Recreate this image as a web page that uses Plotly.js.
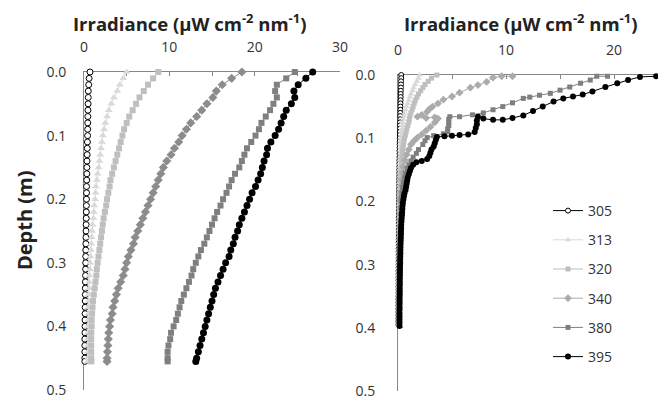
<!DOCTYPE html>
<html>
<head>
<meta charset="utf-8">
<script src="https://cdn.plot.ly/plotly-3.0.1.min.js"></script>
<style>html,body{margin:0;padding:0;background:#fff;}#chart{width:658px;height:399px;}</style>
</head>
<body>
<div id="chart"></div>
<script>
// ---------- data ----------
const wavelengths = ["305", "313", "320", "340", "380", "395"];
const depthTicks = [0, 0.1, 0.2, 0.3, 0.4, 0.5];
const depthTickText = ["0.0", "0.1", "0.2", "0.3", "0.4", "0.5"];

// Left panel: depth (m)
const depthL = [0,0.01,0.02,0.03,0.04,0.05,0.06,0.07,0.08,0.09,
  0.10,0.11,0.12,0.13,0.14,0.15,0.16,0.17,0.18,0.19,
  0.20,0.21,0.22,0.23,0.24,0.25,0.26,0.27,0.28,0.29,
  0.30,0.31,0.32,0.33,0.34,0.35,0.36,0.37,0.38,0.39,
  0.40,0.41,0.42,0.43,0.44,0.45,0.455];
const L305 = [0.7,0.6,0.55,0.5,0.5,0.48,0.46,0.45,0.44,0.43, 0.42,0.4,0.38,0.37,0.35,0.34,0.33,0.32,0.3,0.3,
  0.29,0.28,0.27,0.26,0.25,0.24,0.23,0.22,0.21,0.2, 0.2,0.19,0.18,0.17,0.16,0.15,0.15,0.14,0.13,0.12,
  0.12,0.11,0.1,0.1,0.1,0.1,0.1];
const L313 = [5.0,4.6,4.2,3.9,3.5,3.2,2.9,2.7,2.5,2.35, 2.2,2.1,2.0,1.9,1.8,1.7,1.6,1.5,1.4,1.35,
  1.3,1.2,1.15,1.1,1.0,0.95,0.9,0.85,0.8,0.75, 0.7,0.7,0.65,0.6,0.6,0.55,0.55,0.5,0.5,0.5,
  0.45,0.45,0.45,0.45,0.45,0.45,0.45];
const L320 = [8.7,8.1,7.5,7.0,6.5,6.1,5.7,5.3,5.0,4.7, 4.5,4.3,4.1,3.9,3.7,3.5,3.3,3.1,3.0,2.85,
  2.7,2.6,2.45,2.3,2.2,2.1,2.0,1.9,1.8,1.7, 1.6,1.5,1.45,1.35,1.25,1.15,1.05,1.0,0.95,0.9,
  0.9,0.85,0.85,0.85,0.85,0.85,0.85];
const L340 = [18.5,17.3,16.2,15.5,15.1,14.4,13.8,13.2,12.5,12.0, 11.5,11.1,10.6,10.2,9.7,9.3,9.0,8.7,8.4,8.1,
  7.8,7.5,7.2,6.9,6.6,6.3,6.0,5.8,5.5,5.2, 5.0,4.8,4.6,4.3,4.0,3.8,3.6,3.4,3.3,3.1,
  3.0,2.9,2.85,2.8,2.75,2.7,2.7];
const L380 = [24.7,23.7,22.6,22.4,22.6,22.2,21.8,21.3,20.8,20.5, 20.1,19.6,19.1,18.8,18.5,18.2,17.7,17.3,17.0,16.7,
  16.3,16.0,15.6,15.3,15.0,14.7,14.4,14.1,13.7,13.4, 13.1,12.8,12.6,12.3,12.0,11.7,11.4,11.2,11.0,10.8,
  10.5,10.2,10.1,9.9,9.8,9.8,9.8];
const L395 = [26.8,26.0,25.1,24.6,24.7,24.3,23.7,23.4,23.1,22.8, 22.4,21.9,21.5,21.4,21.1,20.9,20.7,20.4,20.1,19.7,
  19.4,19.1,18.8,18.5,18.2,18.0,17.7,17.5,17.2,17.0, 16.6,16.3,16.0,15.7,15.4,15.2,15.0,14.8,14.6,14.4,
  14.2,14.0,13.8,13.6,13.4,13.2,13.1];

// Right panel: depth (m) shared by 305/313/320
const depthR = [0,0.005,0.01,0.015,0.02,0.025,0.03,0.035,0.04,0.045,
  0.05,0.055,0.06,0.065,0.07,0.075,0.08,0.085,0.09,0.095,
  0.10,0.105,0.11,0.115,0.12,0.125,0.13,0.135,0.14,0.145,
  0.15,0.155,0.16,0.165,0.17,0.175,0.18,0.185,0.19,0.195,
  0.20,0.205,0.21,0.215,0.22,0.225,0.23,0.235,0.24,0.245,
  0.25,0.255,0.26,0.265,0.27,0.275,0.28,0.285,0.29,0.295,
  0.30,0.305,0.31,0.315,0.32,0.325,0.33,0.335,0.34,0.345,
  0.35,0.355,0.36,0.365,0.37,0.375,0.38,0.385,0.39,0.395];
const R305 = [0.3,0.3,0.28,0.28,0.27,0.26,0.25,0.25,0.24,0.23, 0.22,0.22,0.21,0.2,0.2,0.19,0.18,0.18,0.17,0.17,
  0.16,0.16,0.15,0.15,0.14,0.14,0.14,0.13,0.13,0.13, 0.12,0.12,0.12,0.11,0.11,0.11,0.1,0.1,0.1,0.1,
  0.09,0.09,0.09,0.09,0.08,0.08,0.08,0.08,0.08,0.07, 0.07,0.07,0.07,0.07,0.07,0.06,0.06,0.06,0.06,0.06,
  0.06,0.06,0.05,0.05,0.05,0.05,0.05,0.05,0.05,0.05, 0.05,0.04,0.04,0.04,0.04,0.04,0.04,0.04,0.04,0.04];
const R313 = [2.0,1.9,1.75,1.6,1.45,1.35,1.2,1.1,1.0,0.9, 0.8,0.7,0.62,0.55,0.5,0.45,0.42,0.38,0.35,0.33,
  0.3,0.28,0.26,0.25,0.24,0.23,0.22,0.21,0.2,0.19, 0.18,0.17,0.17,0.16,0.16,0.15,0.15,0.14,0.14,0.13,
  0.13,0.13,0.12,0.12,0.12,0.11,0.11,0.11,0.1,0.1, 0.1,0.1,0.09,0.09,0.09,0.09,0.08,0.08,0.08,0.08,
  0.08,0.07,0.07,0.07,0.07,0.07,0.07,0.06,0.06,0.06, 0.06,0.06,0.06,0.06,0.05,0.05,0.05,0.05,0.05,0.05];
const R320 = [3.6,3.1,2.8,2.5,2.3,2.1,1.9,1.75,1.6,1.5, 1.4,1.3,1.2,1.1,1.05,1.0,0.9,0.82,0.75,0.68,
  0.6,0.55,0.5,0.46,0.43,0.4,0.37,0.35,0.33,0.31, 0.3,0.28,0.27,0.26,0.25,0.24,0.23,0.22,0.21,0.2,
  0.2,0.19,0.19,0.18,0.18,0.17,0.17,0.16,0.16,0.16, 0.15,0.15,0.15,0.14,0.14,0.14,0.13,0.13,0.13,0.13,
  0.12,0.12,0.12,0.12,0.11,0.11,0.11,0.11,0.1,0.1, 0.1,0.1,0.1,0.09,0.09,0.09,0.09,0.09,0.08,0.08];

const dep340R = [0.002,0.002,0.004,0.011,0.016,0.020,0.028,0.034,0.039,0.045,
  0.050,0.054,0.058,0.063,0.066,0.068,0.067,0.069,0.075,0.082,
  0.088,0.094,0.099,0.104,0.110,0.118,0.126,0.135,0.145,0.155,
  0.165,0.175,0.185,0.195,0.20,0.21,0.22,0.23,0.24,0.25,
  0.26,0.27,0.28,0.29,0.30,0.31,0.32,0.33,0.34,0.35,
  0.36,0.37,0.38,0.39];
const R340 = [10.6,9.6,8.8,8.2,7.4,6.7,5.7,5.0,4.2,3.7,
  3.2,2.9,2.7,2.2,1.8,2.6,3.4,3.7,3.4,3.0,
  2.6,2.2,1.8,1.5,1.2,1.0,0.8,0.65,0.5,0.42,
  0.36,0.32,0.28,0.25,0.23,0.21,0.2,0.19,0.18,0.17,
  0.16,0.15,0.14,0.13,0.13,0.12,0.12,0.11,0.11,0.1,
  0.1,0.1,0.09,0.09];

const dep380R = [0.002,0.002,0.008,0.013,0.019,0.024,0.029,0.032,0.035,0.037,
  0.044,0.050,0.055,0.060,0.063,0.066,0.066,0.070,0.075,0.080,
  0.085,0.090,0.093,0.096,0.099,0.104,0.110,0.118,0.124,0.130,
  0.136,0.142,0.148,0.155,0.162,0.170,0.178,0.186,0.194,
  0.20,0.21,0.22,0.23,0.24,0.25,0.26,0.27,0.28,0.29,
  0.30,0.31,0.32,0.33,0.34,0.35,0.36,0.37,0.38,0.39];
const R380 = [19.4,18.4,17.8,16.9,15.9,15.0,14.1,13.1,12.2,11.6,
  10.6,9.7,8.8,7.9,6.9,5.7,4.8,4.7,4.7,4.7,
  4.6,4.6,4.2,3.3,2.7,2.5,2.3,1.9,1.7,1.4,
  1.2,1.0,0.85,0.7,0.6,0.5,0.42,0.36,0.3,
  0.28,0.26,0.24,0.22,0.21,0.2,0.19,0.18,0.17,0.16,
  0.15,0.15,0.14,0.13,0.13,0.12,0.12,0.11,0.11,0.1];

const dep395R = [0.002,0.003,0.008,0.013,0.019,0.026,0.031,0.034,0.037,0.042,
  0.050,0.057,0.064,0.068,0.071,0.071,0.069,0.066,0.072,0.078,
  0.084,0.090,0.094,0.095,0.096,0.097,0.098,0.103,0.108,0.113,
  0.118,0.123,0.128,0.133,0.136,0.138,0.142,0.147,0.152,0.157,
  0.162,0.167,0.172,0.177,0.182,0.187,0.192,0.197,
  0.202,0.207,0.212,0.217,0.222,0.227,0.232,0.237,0.242,0.247,
  0.252,0.257,0.262,0.267,0.272,0.277,0.282,0.287,0.292,0.297,
  0.302,0.307,0.312,0.317,0.322,0.327,0.332,0.337,0.342,0.347,
  0.352,0.357,0.362,0.367,0.372,0.377,0.382,0.387,0.392,0.397];
const R395 = [23.9,22.4,21.3,20.3,19.2,18.0,17.1,16.2,15.3,14.4,
  13.4,12.5,11.6,10.6,9.7,8.8,7.9,7.4,7.3,7.3,
  7.2,7.1,6.5,5.7,5.0,4.3,3.6,3.5,3.4,3.3,
  3.1,3.0,2.9,2.7,2.2,1.7,1.4,1.2,1.1,1.0,
  0.9,0.85,0.8,0.75,0.7,0.6,0.55,0.5,
  0.45,0.42,0.4,0.38,0.36,0.34,0.32,0.3,0.29,0.28,
  0.27,0.26,0.25,0.24,0.23,0.22,0.22,0.21,0.2,0.2,
  0.19,0.19,0.18,0.18,0.17,0.17,0.17,0.16,0.16,0.16,
  0.15,0.15,0.15,0.15,0.14,0.14,0.14,0.14,0.14,0.14];

// ---------- styles ----------
const styles = {
  "305": {symbol: "circle", size: 6, color: "#ffffff", edge: "#000000", line: "#000000"},
  "313": {symbol: "triangle-up", size: 7, color: "#d9d9d9", edge: "#d9d9d9", line: "#d9d9d9"},
  "320": {symbol: "square", size: 6, color: "#bfbfbf", edge: "#bfbfbf", line: "#bfbfbf"},
  "340": {symbol: "diamond", size: 7, color: "#8c8c8c", edge: "#8c8c8c", line: "#8c8c8c"},
  "380": {symbol: "square", size: 6, color: "#7f7f7f", edge: "#7f7f7f", line: "#7f7f7f"},
  "395": {symbol: "circle", size: 7, color: "#000000", edge: "#000000", line: "#000000"}
};
const right340Color = "#ababab";

function mk(name, x, y, xa, ya, show, overrideColor, sizeDelta) {
  const s = styles[name];
  const c = overrideColor || s.color;
  const e = overrideColor || s.edge;
  const l = overrideColor || s.line;
  return {
    type: "scatter", mode: "lines+markers", name: name, x: x, y: y,
    xaxis: xa, yaxis: ya, showlegend: show, legendgroup: "g" + name,
    cliponaxis: false, hoverinfo: "skip",
    line: {color: l, width: 1},
    marker: {symbol: s.symbol, size: s.size + sizeDelta, color: c,
             line: {color: e, width: name === "305" ? 1 : 0}}
  };
}

const leftVals = {"305": L305, "313": L313, "320": L320, "340": L340, "380": L380, "395": L395};
const rightSeries = {
  "305": [depthR, R305], "313": [depthR, R313], "320": [depthR, R320],
  "340": [dep340R, R340], "380": [dep380R, R380], "395": [dep395R, R395]
};

const traces = [];
wavelengths.forEach(w => traces.push(mk(w, leftVals[w], depthL, "x", "y", false, null, 0)));
wavelengths.forEach(w => traces.push(mk(w, rightSeries[w][1], rightSeries[w][0], "x2", "y2", true,
  w === "340" ? right340Color : null, -1)));

// ---------- layout ----------
const W = 658, H = 399;
const font = "Open Sans, Noto Sans, sans-serif";
const axisCol = "#878787";
const tickFont = {family: font, size: 14, color: "#333333"};

function xax(range, d0, d1, anchor) {
  return {
    domain: [d0 / W, d1 / W], range: range, side: "top", anchor: anchor,
    showline: true, linecolor: axisCol, linewidth: 1, zeroline: false, showgrid: false,
    ticks: "inside", ticklen: 4, tickcolor: axisCol, dtick: 10, tick0: 0,
    minor: {dtick: 5, ticks: "inside", ticklen: 4, tickcolor: axisCol, showgrid: false},
    tickfont: tickFont, ticklabelstandoff: 13, ticklabeloverflow: "allow",
    layer: "below traces", fixedrange: true
  };
}
function yax(top, bottom, anchor, standoff) {
  return {
    domain: [1 - bottom / H, 1 - top / H], range: [0.5, 0], anchor: anchor,
    showline: true, linecolor: axisCol, linewidth: 1, zeroline: false, showgrid: false,
    ticks: "inside", ticklen: 5, tickcolor: axisCol,
    tickmode: "array", tickvals: depthTicks, ticktext: depthTickText,
    tickfont: tickFont, ticklabelstandoff: standoff, ticklabeloverflow: "allow",
    layer: "below traces", fixedrange: true
  };
}

const titleText = "Irradiance (μW cm<sup>-2</sup> nm<sup>-1</sup>)";
const titleFont = {family: font, size: 18.5, color: "#222222", weight: "bold"};
const layout = {
  width: W, height: H, margin: {l: 0, r: 0, t: 0, b: 0},
  paper_bgcolor: "#ffffff", plot_bgcolor: "#ffffff",
  showlegend: true, hovermode: false,
  xaxis: xax([0, 30], 84, 340, "y"),
  yaxis: yax(72, 390, "x", 14),
  xaxis2: xax([0, 24.07], 398, 658, "y2"),
  yaxis2: yax(75, 391, "x2", 19),
  legend: {
    x: 548 / W, y: 1 - 195 / H, xanchor: "left", yanchor: "top",
    font: {family: font, size: 14, color: "#333333"},
    traceorder: "grouped", tracegroupgap: 8, itemwidth: 30,
    bgcolor: "rgba(0,0,0,0)", borderwidth: 0
  },
  annotations: [
    {text: titleText, x: 189 / W, y: 1 - 22 / H, xref: "paper", yref: "paper",
     xanchor: "center", yanchor: "middle", showarrow: false, font: titleFont},
    {text: titleText, x: 520 / W, y: 1 - 22 / H, xref: "paper", yref: "paper",
     xanchor: "center", yanchor: "middle", showarrow: false, font: titleFont},
    {text: "Depth (m)", x: 24 / W, y: 1 - 220 / H, xref: "paper", yref: "paper",
     xanchor: "center", yanchor: "middle", showarrow: false, textangle: -90,
     font: {family: font, size: 20, color: "#222222", weight: "bold"}}
  ]
};

Plotly.newPlot("chart", traces, layout, {staticPlot: true, displayModeBar: false});
</script>
</body>
</html>
